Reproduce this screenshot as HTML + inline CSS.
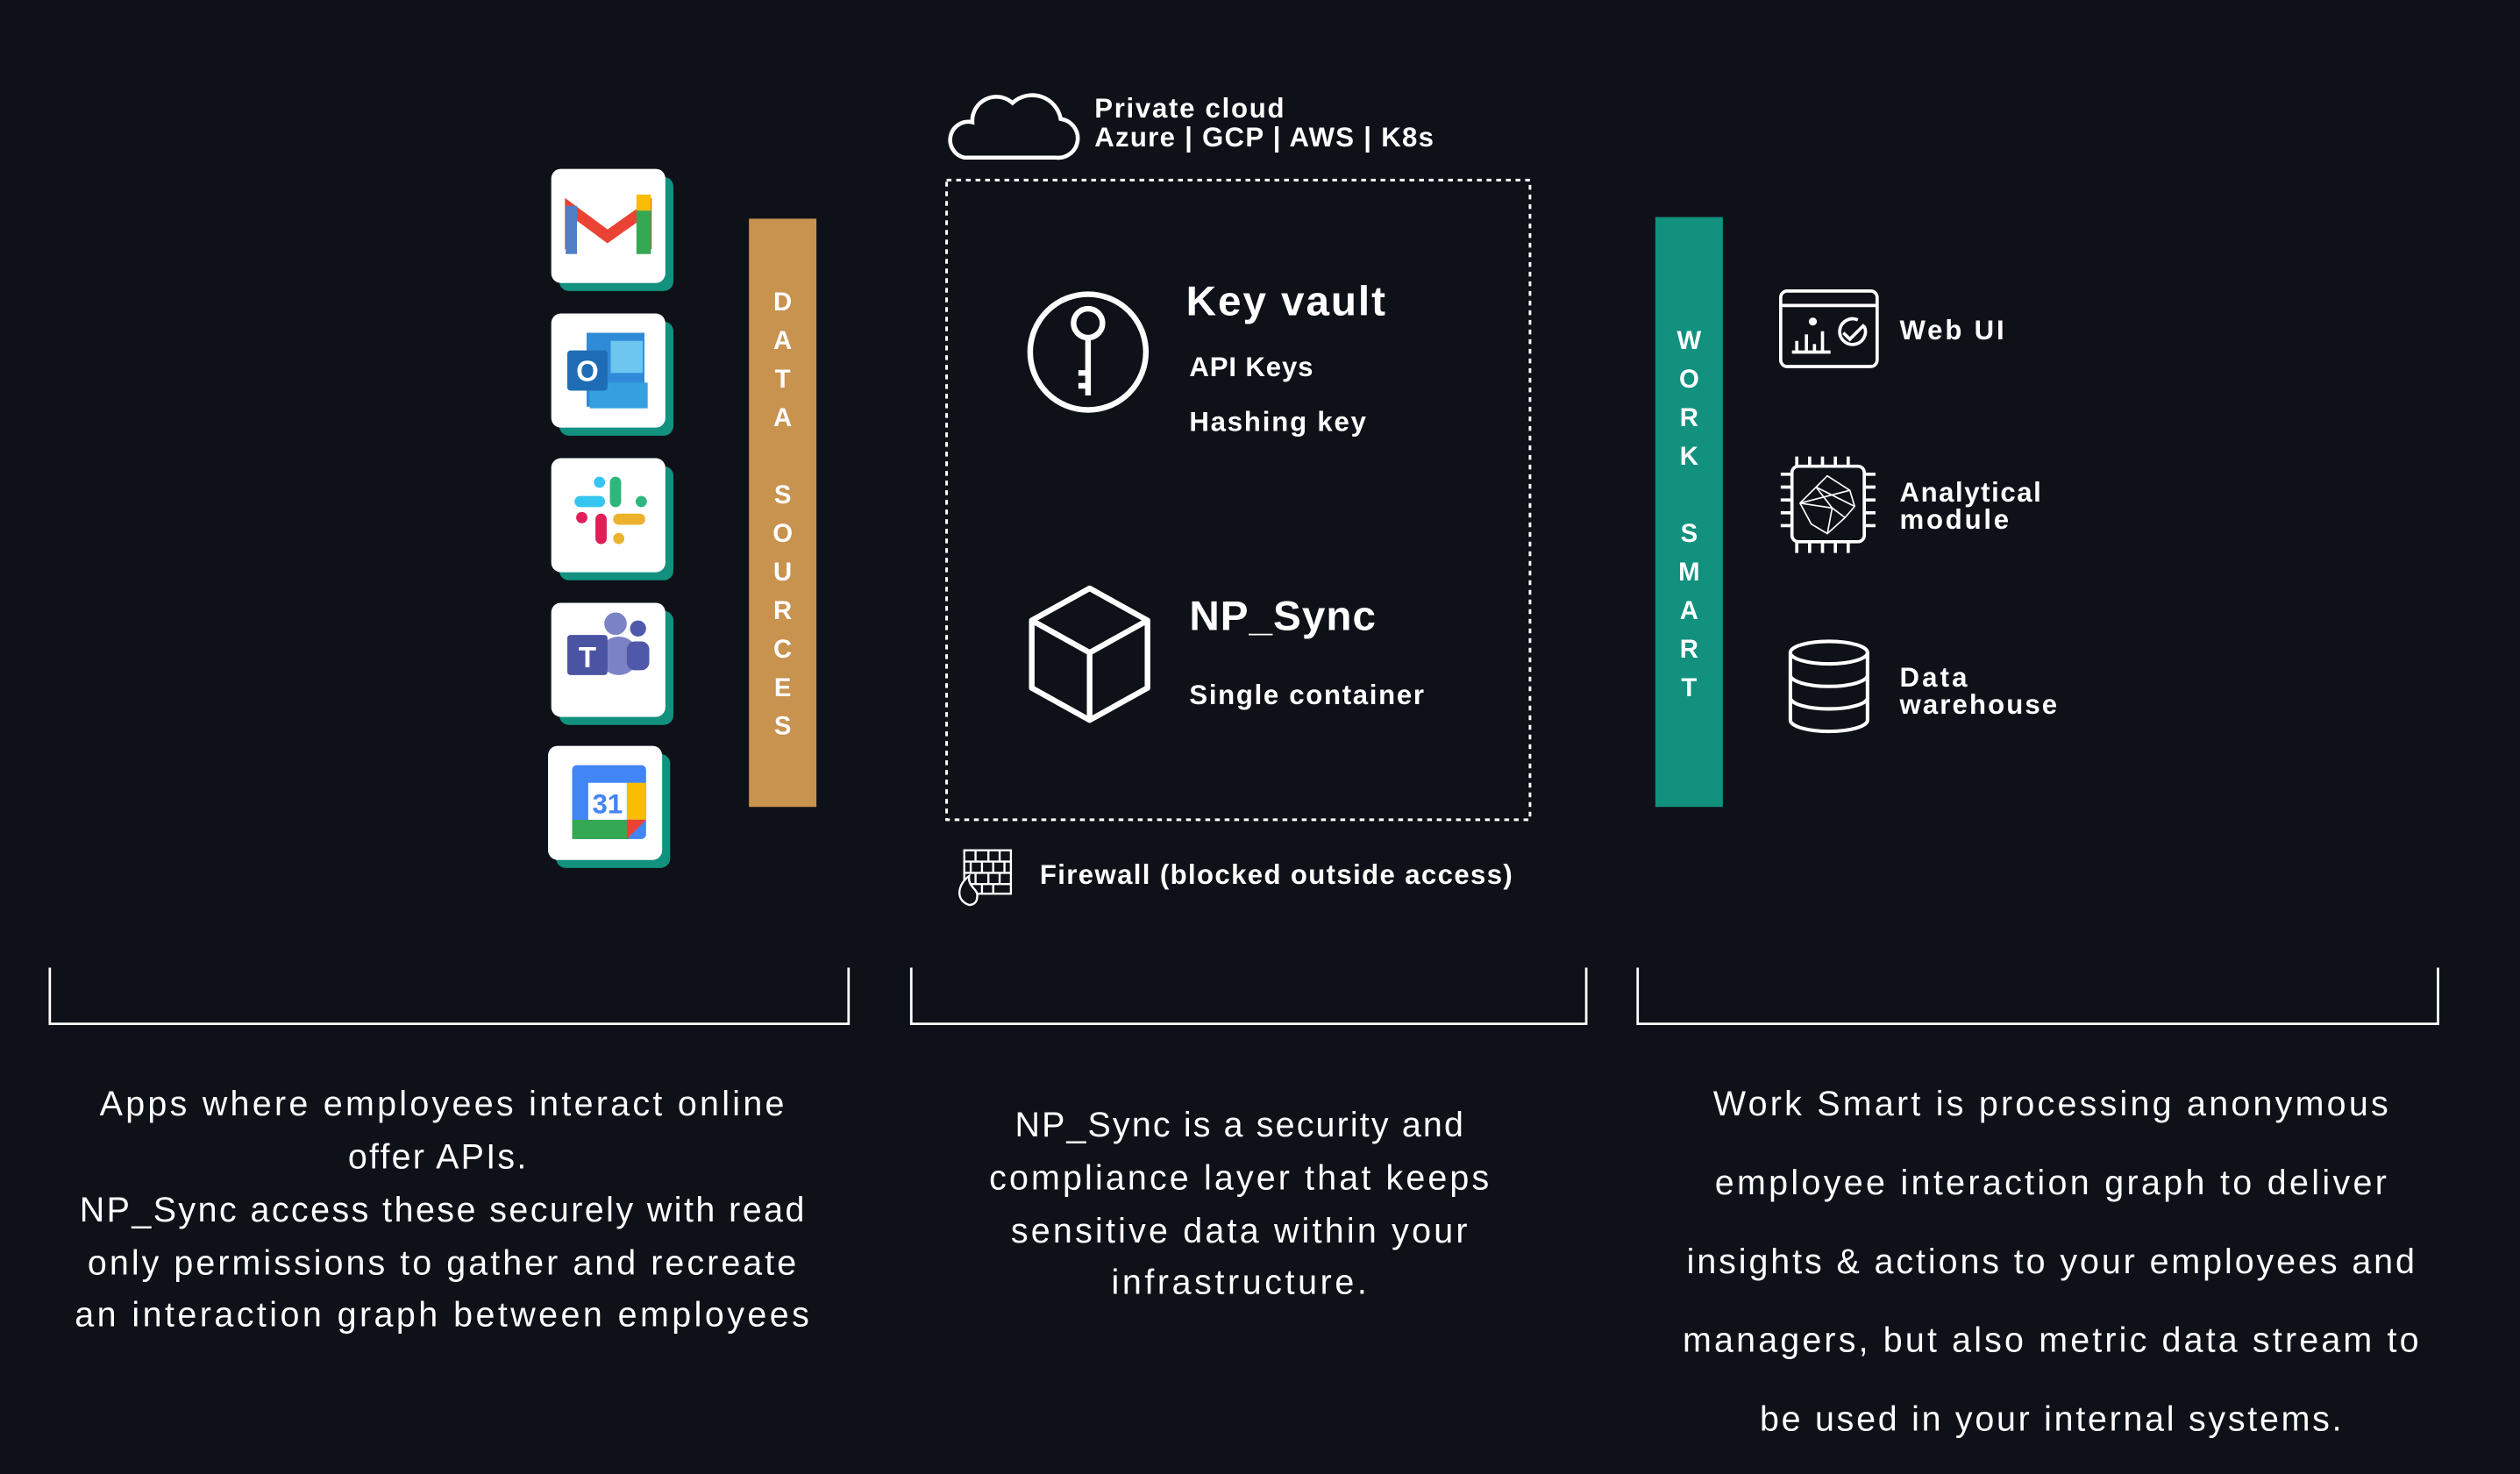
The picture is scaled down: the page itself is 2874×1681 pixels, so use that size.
<!DOCTYPE html>
<html><head><meta charset="utf-8"><style>
html,body{margin:0;padding:0;background:#0e1118;}
svg{display:block}
text{font-family:"Liberation Sans",sans-serif;fill:#fff}
</style></head><body>
<svg width="2874" height="1681" viewBox="0 0 1568 917" xmlns="http://www.w3.org/2000/svg">
<rect width="1568" height="917" fill="#0e1118"/>
<g>
<rect x="348" y="110" width="71" height="71" rx="6" fill="#12917f"/><rect x="343" y="105" width="71" height="71" rx="6" fill="#fff"/>
<path d="M355 155 V130 L378 147 L402 130 V155" fill="none" stroke="#ea4335" stroke-width="7"/>
<rect x="352" y="128" width="7" height="30" fill="#4f7fc4"/><rect x="396" y="128" width="9" height="30" fill="#34a853"/><rect x="396" y="121" width="9" height="10" fill="#fbbc04"/>
<rect x="348" y="200" width="71" height="71" rx="6" fill="#12917f"/><rect x="343" y="195" width="71" height="71" rx="6" fill="#fff"/>
<rect x="365" y="207" width="36" height="46" fill="#2f8ad8"/><rect x="380" y="212" width="20" height="20" fill="#6cc6f0"/><rect x="367" y="238" width="36" height="16" fill="#35a0e0"/>
<rect x="353" y="218" width="25" height="25" rx="2" fill="#1e6cb5"/><text x="365.5" y="237" font-size="18" font-weight="bold" text-anchor="middle">O</text>
<rect x="348" y="290" width="71" height="71" rx="6" fill="#12917f"/><rect x="343" y="285" width="71" height="71" rx="6" fill="#fff"/>
<g stroke-linecap="round" stroke-width="7"><line x1="361" y1="312" x2="373" y2="312" stroke="#36c5f0"/><line x1="383" y1="300" x2="383" y2="312" stroke="#2eb67d"/><line x1="385" y1="323" x2="398" y2="323" stroke="#ecb22e"/><line x1="374" y1="323" x2="374" y2="335" stroke="#e01e5a"/><line x1="362" y1="322" x2="362" y2="322" stroke="#e01e5a"/><line x1="399" y1="312" x2="399" y2="312" stroke="#2eb67d"/><line x1="385" y1="335" x2="385" y2="335" stroke="#ecb22e"/><line x1="373" y1="300" x2="373" y2="300" stroke="#36c5f0"/></g>
<rect x="348" y="380" width="71" height="71" rx="6" fill="#12917f"/><rect x="343" y="375" width="71" height="71" rx="6" fill="#fff"/>
<circle cx="385" cy="408" r="12" fill="#7b83c4"/><circle cx="383" cy="388" r="7" fill="#7b83c4"/><circle cx="397" cy="391" r="5" fill="#5059a9"/><rect x="390" y="399" width="14" height="18" rx="5" fill="#5059a9"/>
<rect x="353" y="395" width="25" height="25" rx="2" fill="#4b53a3"/><text x="365.5" y="415" font-size="18" font-weight="bold" text-anchor="middle">T</text>
<rect x="346" y="469" width="71" height="71" rx="6" fill="#12917f"/><rect x="341" y="464" width="71" height="71" rx="6" fill="#fff"/>
<rect x="356" y="476" width="46" height="46" rx="3" fill="#4285f4"/><rect x="356" y="510" width="35" height="12" fill="#34a853"/><rect x="390" y="487" width="12" height="23" fill="#fbbc04"/><path d="M390 510 H402 L390 522Z" fill="#ea4335"/><rect x="366" y="487" width="24" height="23" fill="#fff"/>
<text x="378" y="506" font-size="17" font-weight="bold" text-anchor="middle" style="fill:#4285f4">31</text>
</g>
<rect x="466" y="136" width="42" height="366" fill="#c8924f"/>
<g font-size="16" font-weight="bold" text-anchor="middle">
<text x="487" y="193">D</text><text x="487" y="217">A</text><text x="487" y="241">T</text><text x="487" y="265">A</text>
<text x="487" y="313">S</text><text x="487" y="337">O</text><text x="487" y="361">U</text><text x="487" y="385">R</text><text x="487" y="409">C</text><text x="487" y="433">E</text><text x="487" y="457">S</text>
</g>
<path d="M600 98 H657 A12 12 0 0 0 660 74 A18 18 0 0 0 630 64 A15 15 0 0 0 605 76 A11 11 0 0 0 600 98Z" fill="none" stroke="#fff" stroke-width="2.5"/>
<text x="681" y="73" font-size="17" font-weight="bold" textLength="118" lengthAdjust="spacing">Private cloud</text>
<text x="681" y="91" font-size="17" font-weight="bold" textLength="211" lengthAdjust="spacing">Azure | GCP | AWS | K8s</text>
<rect x="589" y="112" width="363" height="398" fill="none" stroke="#fff" stroke-width="1.6" stroke-dasharray="3,3"/>
<circle cx="677" cy="219" r="36" fill="none" stroke="#fff" stroke-width="3.5"/>
<circle cx="677" cy="201" r="9" fill="none" stroke="#fff" stroke-width="3.5"/>
<path d="M677 210 V246 M677 232 h-6 M677 240 h-6" stroke="#fff" stroke-width="3.5" fill="none"/>
<text x="738" y="196" font-size="26" font-weight="bold" textLength="124" lengthAdjust="spacing">Key vault</text>
<text x="740" y="234" font-size="17" font-weight="bold" textLength="77" lengthAdjust="spacing">API Keys</text>
<text x="740" y="268" font-size="17" font-weight="bold" textLength="110" lengthAdjust="spacing">Hashing key</text>
<path d="M678 366 L714 386 V428 L678 448 L642 428 V386Z M642 386 L678 406 L714 386 M678 406 V448" fill="none" stroke="#fff" stroke-width="3.5" stroke-linejoin="round"/>
<text x="740" y="392" font-size="26" font-weight="bold" textLength="116" lengthAdjust="spacing">NP_Sync</text>
<text x="740" y="438" font-size="17" font-weight="bold" textLength="146" lengthAdjust="spacing">Single container</text>
<g stroke="#fff" stroke-width="1.3" fill="none"><rect x="600" y="529" width="29" height="27"/><path d="M600 536 H629 M600 543 H629 M600 550 H629 M607 529 V536 M615 529V536 M622 529V536 M604 536V543 M611 536V543 M618 536V543 M625 536V543 M607 543V550 M615 543V550 M622 543V550 M611 550V556 M618 550V556"/><path d="M603 563 C594 560 596 550 603 545 C602 552 609 553 608 558 C608 561 606 563 603 563Z" fill="#0e1118"/></g>
<text x="647" y="550" font-size="17" font-weight="bold" textLength="294" lengthAdjust="spacing">Firewall (blocked outside access)</text>
<rect x="1030" y="135" width="42" height="367" fill="#12917f"/>
<g font-size="16" font-weight="bold" text-anchor="middle">
<text x="1051" y="217">W</text><text x="1051" y="241">O</text><text x="1051" y="265">R</text><text x="1051" y="289">K</text>
<text x="1051" y="337">S</text><text x="1051" y="361">M</text><text x="1051" y="385">A</text><text x="1051" y="409">R</text><text x="1051" y="433">T</text>
</g>
<g stroke="#fff" stroke-width="2" fill="none"><rect x="1108" y="181" width="60" height="47" rx="4"/><line x1="1108" y1="190" x2="1168" y2="190"/><path d="M1115 219 H1139 M1118 219 V212 M1124 219 V208 M1129 219 V214 M1134 219 V206"/><path d="M1160 203 A8 8 0 1 1 1156 199 M1147 207 L1151 211 L1160 202"/></g>
<circle cx="1128" cy="200" r="2.5" fill="#fff"/>
<text x="1182" y="211" font-size="17" font-weight="bold" textLength="65" lengthAdjust="spacing">Web UI</text>
<g stroke="#fff" stroke-width="2" fill="none"><rect x="1115" y="290" width="45" height="47" rx="4"/>
<path d="M1118 284V290 M1126 284V290 M1134 284V290 M1142 284V290 M1150 284V290 M1118 337V344 M1126 337V344 M1134 337V344 M1142 337V344 M1150 337V344 M1108 295H1115 M1108 303H1115 M1108 311H1115 M1108 319H1115 M1108 327H1115 M1160 295H1167 M1160 303H1167 M1160 311H1167 M1160 319H1167 M1160 327H1167"/>
<path d="M1137 296 L1151 305 L1154 315 L1148 322 L1137 332 L1127 326 L1120 313 L1130 303Z M1137 296 L1130 303 L1140 316 L1148 322 M1120 313 L1151 305 M1130 303 L1154 315 M1140 316 L1137 332 M1120 313 L1140 316" stroke-width="0.9"/></g>
<text x="1182" y="312" font-size="17" font-weight="bold" textLength="88" lengthAdjust="spacing">Analytical</text>
<text x="1182" y="329" font-size="17" font-weight="bold" textLength="68" lengthAdjust="spacing">module</text>
<g stroke="#fff" stroke-width="2.2" fill="none"><ellipse cx="1138" cy="406" rx="24" ry="7"/><path d="M1114 406 V448 A24 7 0 0 0 1162 448 V406 M1114 420 A24 7 0 0 0 1162 420 M1114 434 A24 7 0 0 0 1162 434"/></g>
<text x="1182" y="427" font-size="17" font-weight="bold" textLength="42" lengthAdjust="spacing">Data</text>
<text x="1182" y="444" font-size="17" font-weight="bold" textLength="98" lengthAdjust="spacing">warehouse</text>
<g stroke="#fff" stroke-width="1.5" fill="none">
<path d="M31 602 V637 H528 V602"/><path d="M567 602 V637 H987 V602"/><path d="M1019 602 V637 H1517 V602"/></g>
<g font-size="21.5" text-anchor="middle" lengthAdjust="spacing">
<text x="275" y="694" textLength="426" lengthAdjust="spacing">Apps where employees interact online</text>
<text x="272" y="727" textLength="111" lengthAdjust="spacing">offer APIs.</text>
<text x="275" y="760" textLength="451" lengthAdjust="spacing">NP_Sync access these securely with read</text>
<text x="275" y="793" textLength="441" lengthAdjust="spacing">only permissions to gather and recreate</text>
<text x="275" y="825" textLength="457" lengthAdjust="spacing">an interaction graph between employees</text>
<text x="771" y="707" textLength="279" lengthAdjust="spacing">NP_Sync is a security and</text>
<text x="771" y="740" textLength="311" lengthAdjust="spacing">compliance layer that keeps</text>
<text x="771" y="773" textLength="284" lengthAdjust="spacing">sensitive data within your</text>
<text x="771" y="805" textLength="159" lengthAdjust="spacing">infrastructure.</text>
<text x="1276" y="694" textLength="420" lengthAdjust="spacing">Work Smart is processing anonymous</text>
<text x="1276" y="743" textLength="418" lengthAdjust="spacing">employee interaction graph to deliver</text>
<text x="1276" y="792" textLength="453" lengthAdjust="spacing">insights &amp; actions to your employees and</text>
<text x="1276" y="841" textLength="458" lengthAdjust="spacing">managers, but also metric data stream to</text>
<text x="1276" y="890" textLength="362" lengthAdjust="spacing">be used in your internal systems.</text>
</g>
</svg>
</body></html>
